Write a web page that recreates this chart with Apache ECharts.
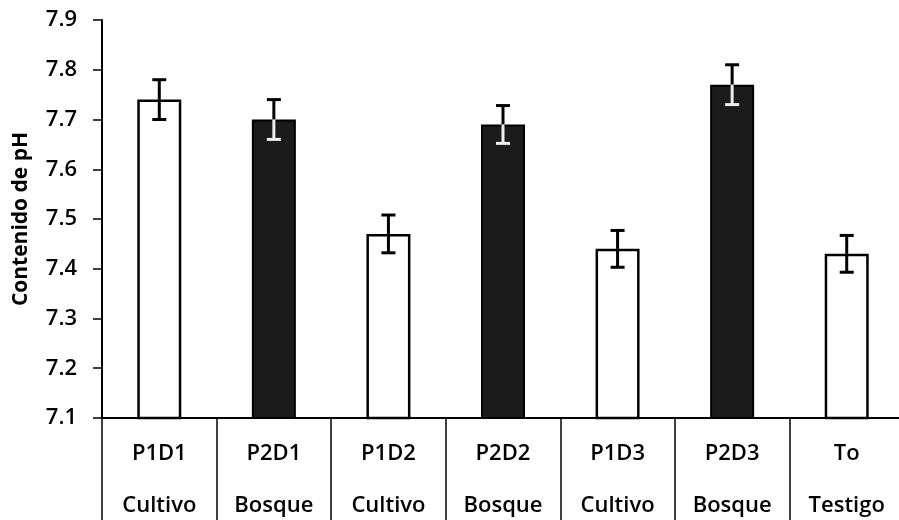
<!DOCTYPE html>
<html>
<head>
<meta charset="utf-8">
<script src="https://cdn.jsdelivr.net/npm/echarts@6/dist/echarts.min.js"></script>
<style>
html,body{margin:0;padding:0;background:#fff;}
#chart{width:899px;height:520px;}
</style>
</head>
<body>
<div id="chart"></div>
<script>
// Data
const codes = ['P1D1', 'P2D1', 'P1D2', 'P2D2', 'P1D3', 'P2D3', 'To'];
const groups = ['Cultivo', 'Bosque', 'Cultivo', 'Bosque', 'Cultivo', 'Bosque', 'Testigo'];
const phValues = [7.74, 7.70, 7.47, 7.69, 7.44, 7.77, 7.43];
const phErrors = [0.04, 0.04, 0.038, 0.038, 0.037, 0.04, 0.037];
const yTicks = [7.1, 7.2, 7.3, 7.4, 7.5, 7.6, 7.7, 7.8, 7.9];

const FONT = '"Open Sans", "Noto Sans", sans-serif';
const categories = codes.map((c, i) => c + '\n' + groups[i]);
const isDark = g => g === 'Bosque';

const barData = phValues.map((v, i) => ({
  value: v,
  itemStyle: isDark(groups[i])
    ? { color: '#1b1b1b', borderColor: '#000', borderWidth: 2 }
    : { color: '#ffffff', borderColor: '#000', borderWidth: 2.5 }
}));

const errData = phValues.map((v, i) => [i, v, v - phErrors[i], v + phErrors[i], isDark(groups[i]) ? 1 : 0]);

const chart = echarts.init(document.getElementById('chart'), null, { renderer: 'canvas' });
chart.setOption({
  animation: false,
  backgroundColor: '#ffffff',
  grid: { left: 102, right: -5, top: 20, bottom: 102, containLabel: false, outerBoundsMode: 'none' },
  xAxis: {
    type: 'category',
    data: categories,
    axisLine: { lineStyle: { color: '#000', width: 2 } },
    axisTick: { show: true, interval: 0, alignWithLabel: false, length: 102, lineStyle: { color: '#000', width: 1.5 } },
    axisLabel: {
      interval: 0, margin: 10, color: '#000', fontFamily: FONT, fontSize: 22,
      fontWeight: 600, lineHeight: 52
    }
  },
  yAxis: {
    type: 'value',
    min: yTicks[0],
    max: yTicks[yTicks.length - 1],
    interval: 0.1,
    name: 'Contenido de pH',
    nameLocation: 'middle',
    nameGap: 70,
    nameTextStyle: { color: '#000', fontFamily: FONT, fontSize: 21, fontWeight: 'bold' },
    axisLine: { show: true, lineStyle: { color: '#000', width: 2 } },
    axisTick: { show: true, length: 9, lineStyle: { color: '#000', width: 1.5 } },
    splitLine: { show: false },
    axisLabel: {
      margin: 25, color: '#000', fontFamily: FONT, fontSize: 22, fontWeight: 600,
      formatter: v => v.toFixed(1)
    }
  },
  series: [
    {
      type: 'bar',
      data: barData,
      barWidth: 44,
      z: 2
    },
    {
      type: 'custom',
      z: 5,
      data: errData,
      encode: { x: 0, y: [1, 2, 3] },
      renderItem: function (params, api) {
        const x = api.value(0);
        const pHigh = api.coord([x, api.value(3)]);
        const pVal = api.coord([x, api.value(1)]);
        const pLow = api.coord([x, api.value(2)]);
        const dark = api.value(4) === 1;
        const hw = 7;
        const black = { stroke: '#000', lineWidth: 3 };
        const lower = { stroke: dark ? '#eeeeee' : '#000', lineWidth: 3 };
        return {
          type: 'group',
          children: [
            { type: 'line', shape: { x1: pHigh[0] - hw, y1: pHigh[1], x2: pHigh[0] + hw, y2: pHigh[1] }, style: black },
            { type: 'line', shape: { x1: pHigh[0], y1: pHigh[1], x2: pVal[0], y2: pVal[1] }, style: black },
            { type: 'line', shape: { x1: pVal[0], y1: pVal[1], x2: pLow[0], y2: pLow[1] }, style: lower },
            { type: 'line', shape: { x1: pLow[0] - hw, y1: pLow[1], x2: pLow[0] + hw, y2: pLow[1] }, style: lower }
          ]
        };
      }
    }
  ]
});
</script>
</body>
</html>
